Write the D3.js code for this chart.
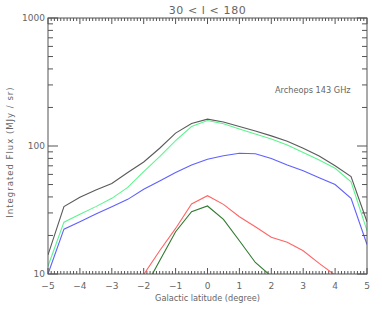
<!DOCTYPE html>
<head>
    <meta charset="utf-8">
    <title>Archeops 143 GHz</title>
    <script src="https://d3js.org/d3.v7.min.js"></script>
    <style>
        body { margin: 0; background: #fff; }
        text { font-family: "DejaVu Sans", sans-serif; fill: #666; }
    </style>
</head>
<body>
    <script>
        const latitude = [-5, -4.5, -4, -3.5, -3, -2.5, -2, -1.5, -1, -0.5, 0, 0.5, 1, 1.5, 2, 2.5, 3, 3.5, 4, 4.5, 5]

        const total   = [14.1, 33.6, 39.7, 45.3, 51, 62, 75, 96, 126, 150, 162, 154, 142, 131, 120, 109, 96, 83.6, 70, 57.6, 25.6]
        const dust    = [11.5, 25.4, 29.3, 33.6, 39, 47.5, 63, 82.5, 110, 142, 158, 149, 136, 124, 113.5, 102, 89, 77.8, 67, 52.6, 21.8]
        const cmb     = [10, 22.4, 25.6, 29.4, 33.6, 38.3, 45.9, 53.3, 62, 71, 78.7, 84, 87.7, 87, 80, 71, 64, 56.5, 50, 39, 17]
        const freefree = [null, null, null, null, null, null, 9.9, 15.2, 22.7, 35.2, 40.9, 35, 28, 23.4, 19.4, 17.7, 15.2, 12.1, 9.8, null, null]
        const synchro = [null, null, null, null, null, null, 7.5, 12.7, 21.4, 30.7, 34, 26.7, 18.2, 12.3, 9.6, null, null, null, null, null, null]

        const xTicks = [-5, -4, -3, -2, -1, 0, 1, 2, 3, 4, 5]
        const yTicks = [10, 100, 1000]

        const series = [
            { values: total, color: "#5a5a5a" },
            { values: dust, color: "#5cf58f" },
            { values: cmb, color: "#6060ff" },
            { values: freefree, color: "#ff6464" },
            { values: synchro, color: "#2f7a2f" }
        ]

        const width = 382
        const height = 311
        const margin = { left: 48, right: 15, top: 18, bottom: 37 }

        const vis = d3.select("body").append("svg")
            .attr("width", width)
            .attr("height", height)

        const x = d3.scaleLinear().domain([-5, 5]).range([margin.left, width - margin.right])
        const y = d3.scaleLog().domain([10, 1000]).range([height - margin.bottom, margin.top])

        vis.append("clipPath").attr("id", "plot")
            .append("rect")
            .attr("x", margin.left).attr("y", margin.top)
            .attr("width", x(5) - x(-5)).attr("height", y(10) - y(1000))

        const line = d3.line()
            .defined((d) => d[1] != null)
            .x((d) => x(d[0]))
            .y((d) => y(d[1]))

        vis.append("g").attr("clip-path", "url(#plot)")
            .selectAll("path")
            .data(series)
            .join("path")
                .attr("d", (s) => line(latitude.map((l, i) => [l, s.values[i]])))
                .attr("fill", "none")
                .attr("stroke", (s) => s.color)
                .attr("stroke-width", 1.1)

        // axes: IDL style box with minor ticks on all sides
        const axisColor = "#555"
        const minorX = d3.range(-50, 51).map((d) => d / 10)
        const minorY = [10, 100].flatMap((d) => d3.range(2, 10).map((m) => d * m))

        const frame = vis.append("g").attr("stroke", axisColor).attr("stroke-width", 1)
        frame.append("rect")
            .attr("x", x(-5)).attr("y", y(1000))
            .attr("width", x(5) - x(-5)).attr("height", y(10) - y(1000))
            .attr("fill", "none")

        const xt = (v) => xTicks.includes(v) ? 6 : 3
        frame.selectAll("line.xb").data(minorX).join("line")
            .attr("x1", (d) => x(d)).attr("x2", (d) => x(d))
            .attr("y1", y(10)).attr("y2", (d) => y(10) - xt(d))
        frame.selectAll("line.xt").data(minorX).join("line")
            .attr("class", "xt")
            .attr("x1", (d) => x(d)).attr("x2", (d) => x(d))
            .attr("y1", y(1000)).attr("y2", (d) => y(1000) + xt(d))

        const yAll = minorY.concat(yTicks)
        const yt = (v) => yTicks.includes(v) ? 10 : 5
        frame.selectAll("line.yl").data(yAll).join("line")
            .attr("class", "yl")
            .attr("y1", (d) => y(d)).attr("y2", (d) => y(d))
            .attr("x1", x(-5)).attr("x2", (d) => x(-5) + yt(d))
        frame.selectAll("line.yr").data(yAll).join("line")
            .attr("class", "yr")
            .attr("y1", (d) => y(d)).attr("y2", (d) => y(d))
            .attr("x1", x(5)).attr("x2", (d) => x(5) - yt(d))

        vis.append("g").selectAll("text").data(xTicks).join("text")
            .attr("x", (d) => x(d)).attr("y", y(10) + 15)
            .attr("text-anchor", "middle")
            .attr("font-size", 9)
            .text((d) => d < 0 ? "\u2212" + Math.abs(d) : d)

        vis.append("g").selectAll("text").data(yTicks).join("text")
            .attr("x", x(-5) - 3).attr("y", (d) => y(d) + 3)
            .attr("text-anchor", "end")
            .attr("font-size", 9)
            .text((d) => d)

        vis.append("text")
            .attr("x", (x(-5) + x(5)) / 2).attr("y", 14)
            .attr("text-anchor", "middle")
            .attr("font-size", 11)
            .attr("letter-spacing", 0.6)
            .text("30 < l < 180")

        vis.append("text")
            .attr("x", (x(-5) + x(5)) / 2).attr("y", 301)
            .attr("text-anchor", "middle")
            .attr("font-size", 8.2)
            .text("Galactic latitude (degree)")

        vis.append("text")
            .attr("transform", `translate(13, ${(y(10) + y(1000)) / 2 + 6}) rotate(-90)`)
            .attr("text-anchor", "middle")
            .attr("font-size", 8.5)
            .attr("letter-spacing", 1)
            .text("Integrated Flux (MJy / sr)")

        vis.append("text")
            .attr("x", 275).attr("y", 93)
            .attr("font-size", 8.2)
            .text("Archeops 143 GHz")
    </script>
</body>
